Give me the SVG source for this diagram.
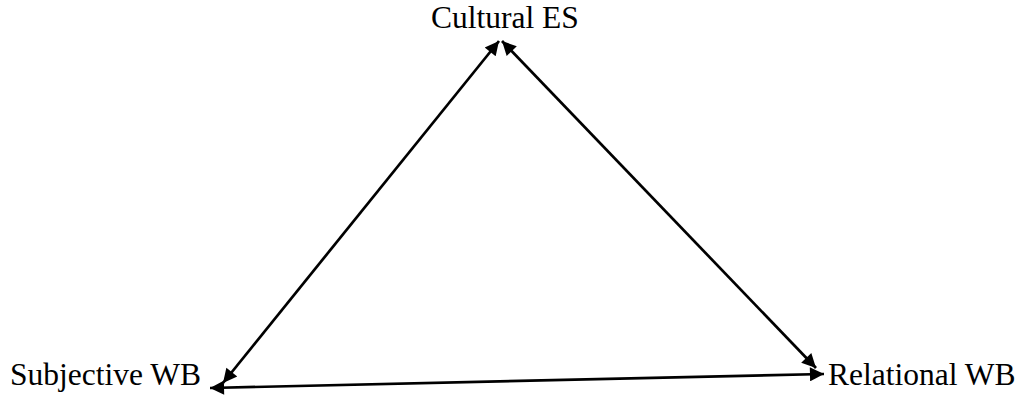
<svg xmlns="http://www.w3.org/2000/svg" width="1022" height="396" viewBox="0 0 1022 396">
  <style>
    .label { font-family: "Liberation Serif", "Times New Roman", serif; font-size: 31.5px; fill: #000; }
    .link { stroke: #000; stroke-width: 2.7; fill: none; marker-start: url(#head); marker-end: url(#head); }
  </style>
  <defs>
    <marker id="head" viewBox="0 0 10 10" refX="10" refY="5" markerWidth="6.6" markerHeight="5.2" markerUnits="strokeWidth" orient="auto-start-reverse">
      <path d="M0,0 L10,5 L0,10 z" fill="#000"/>
    </marker>
  </defs>
  <rect width="1022" height="396" fill="#fff"/>
  <g id="connectors">
    <line class="link" x1="499" y1="41" x2="223" y2="383"/>
    <line class="link" x1="502" y1="41" x2="816" y2="368"/>
    <line class="link" x1="210" y1="388" x2="824" y2="374"/>
  </g>
  <g id="cultural-es">
    <text class="label" x="431" y="28">Cultural ES</text>
  </g>
  <g id="subjective-wb">
    <text class="label" x="10" y="385">Subjective WB</text>
  </g>
  <g id="relational-wb">
    <text class="label" x="828" y="385">Relational WB</text>
  </g>
</svg>
